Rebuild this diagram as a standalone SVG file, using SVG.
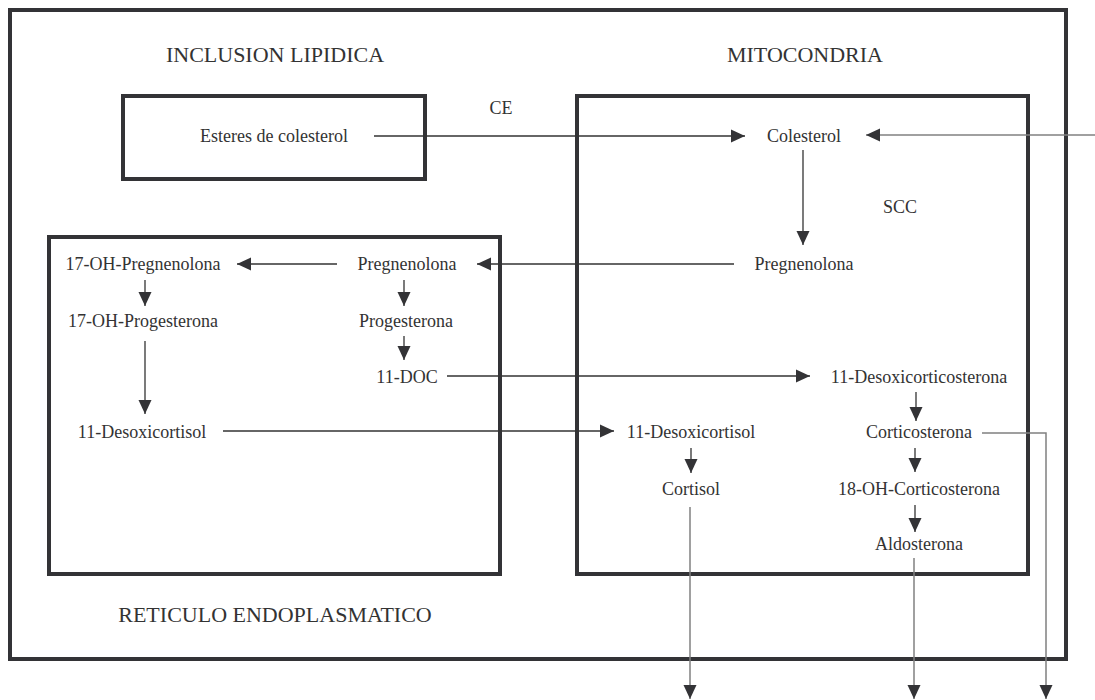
<svg xmlns="http://www.w3.org/2000/svg" width="1095" height="700" viewBox="0 0 1095 700">
<style>
  .box { fill: none; stroke: #333336; stroke-width: 4; }
  .t { font-family: "Liberation Serif", "Times New Roman", serif; font-size: 18px; fill: #333; text-anchor: middle; }
  .lbl { font-family: "Liberation Serif", "Times New Roman", serif; font-size: 22px; fill: #333; text-anchor: middle; }
  .c { fill: none; stroke: #333; stroke-width: 1.3; }
  .g { fill: none; stroke: #808080; stroke-width: 1.5; }
  .ah { marker-end: url(#arr); }
</style>
<defs>
  <marker id="arr" markerUnits="userSpaceOnUse" markerWidth="14" markerHeight="14" refX="14" refY="7" orient="auto">
    <path d="M0,0.5 L14,7 L0,13.5 z" fill="#333336"/>
  </marker>
</defs>
<rect width="1095" height="700" fill="#fff"/>

<g id="compartments">
  <rect id="cell" class="box" x="10" y="10" width="1056" height="649"/>
  <rect id="inclusion" class="box" x="123" y="96" width="302" height="83"/>
  <rect id="reticulo" class="box" x="49" y="237" width="451" height="337"/>
  <rect id="mitocondria" class="box" x="577" y="96" width="451" height="478"/>
  <text class="lbl" x="275" y="62">INCLUSION LIPIDICA</text>
  <text class="lbl" x="805" y="62">MITOCONDRIA</text>
  <text class="lbl" x="275" y="622">RETICULO ENDOPLASMATICO</text>
  <text class="t" x="501" y="114">CE</text>
  <text class="t" x="900" y="213">SCC</text>
</g>

<g id="n-esteres"><text class="t" x="274" y="142">Esteres de colesterol</text></g>
<g id="n-colesterol"><text class="t" x="804" y="142">Colesterol</text></g>
<g id="n-pregnenolona-m"><text class="t" x="804" y="270">Pregnenolona</text></g>
<g id="n-pregnenolona-r"><text class="t" x="407" y="270">Pregnenolona</text></g>
<g id="n-17ohpreg"><text class="t" x="143" y="270">17-OH-Pregnenolona</text></g>
<g id="n-17ohprog"><text class="t" x="143" y="327">17-OH-Progesterona</text></g>
<g id="n-progesterona"><text class="t" x="406" y="327">Progesterona</text></g>
<g id="n-11doc"><text class="t" x="407" y="383">11-DOC</text></g>
<g id="n-11desoxicorticosterona"><text class="t" x="919" y="383">11-Desoxicorticosterona</text></g>
<g id="n-11desoxicortisol-r"><text class="t" x="142" y="438">11-Desoxicortisol</text></g>
<g id="n-11desoxicortisol-m"><text class="t" x="691" y="438">11-Desoxicortisol</text></g>
<g id="n-corticosterona"><text class="t" x="919" y="438">Corticosterona</text></g>
<g id="n-cortisol"><text class="t" x="691" y="495">Cortisol</text></g>
<g id="n-18oh"><text class="t" x="919" y="495">18-OH-Corticosterona</text></g>
<g id="n-aldosterona"><text class="t" x="919" y="550">Aldosterona</text></g>

<g id="connectors">
  <line class="c ah" x1="374" y1="136" x2="745" y2="136"/>
  <line class="g ah" x1="1095" y1="135" x2="866" y2="135"/>
  <line class="c ah" x1="803" y1="150" x2="803" y2="245"/>
  <line class="c ah" x1="734" y1="264" x2="477" y2="264"/>
  <line class="c ah" x1="337" y1="264" x2="237" y2="264"/>
  <line class="c ah" x1="145" y1="280" x2="145" y2="306"/>
  <line class="c ah" x1="404" y1="280" x2="404" y2="306"/>
  <line class="c ah" x1="145" y1="341" x2="145" y2="414"/>
  <line class="c ah" x1="404" y1="336" x2="404" y2="360"/>
  <line class="c ah" x1="447" y1="376" x2="810" y2="376"/>
  <line class="c ah" x1="223" y1="431" x2="614" y2="431"/>
  <line class="c ah" x1="916" y1="392" x2="916" y2="421"/>
  <line class="c ah" x1="691" y1="448" x2="691" y2="473"/>
  <line class="c ah" x1="915" y1="448" x2="915" y2="472"/>
  <line class="c ah" x1="915" y1="505" x2="915" y2="532"/>
  <line class="g ah" x1="690" y1="507" x2="690" y2="699"/>
  <line class="g ah" x1="914" y1="558" x2="914" y2="699"/>
  <polyline class="g ah" points="982,433 1046,433 1046,699"/>
</g>
</svg>
